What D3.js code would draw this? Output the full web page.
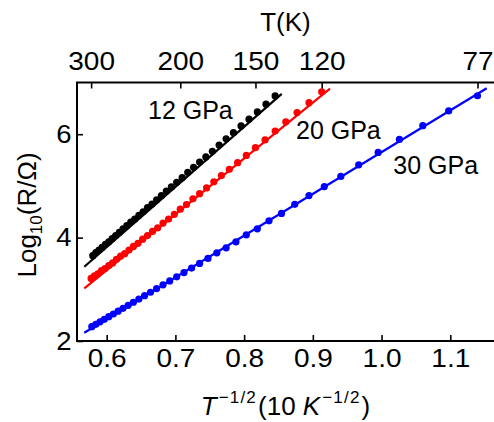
<!DOCTYPE html>
<html><head><meta charset="utf-8">
<script src="https://cdn.jsdelivr.net/npm/d3@7"></script>
<style>
html,body{margin:0;padding:0;background:#fff;}
svg{display:block;}
text{font-family:"Liberation Sans",Arial,Helvetica,sans-serif;fill:#000;}
</style></head>
<body><svg id="c" width="494" height="422"></svg>
<script>
// ---- data ----
const topTicksT = [300, 200, 150, 120, 77];
const topTickLabels = ["300", "200", "150", "120", "77"];
const bottomTicks = [0.6, 0.7, 0.8, 0.9, 1.0, 1.1];
const leftTicks = [2, 4, 6];

// 12 GPa (black): temperature (K) and log10(R/Ω)
const blackT = [140,144.5,149,153.5,158,162.5,167,171.5,176,180.5,185,189.5,194,198.5,203,207.5,212,216.5,221,225.5,230,234.5,239,243.5,248,252.5,257,261.5,266,270.5,275,279.5,284,288.5,293,297.5];
const blackY = [6.74,6.58,6.43,6.29,6.16,6.03,5.91,5.79,5.67,5.56,5.46,5.36,5.26,5.16,5.07,4.98,4.90,4.81,4.73,4.65,4.58,4.50,4.43,4.36,4.30,4.23,4.17,4.10,4.04,3.98,3.92,3.87,3.81,3.76,3.71,3.65];
const blackFitX = [0.5674, 0.8547];
const blackFitY = [3.436, 6.779];

// 20 GPa (red)
const redT = [120,125,130,135,140,145,150,155,160,165,170,175,180,185,190,195,200,205,210,215,220,225,230,235,240,245,250,255,260,265,270,275,280,285,290,295,300];
const redY = [6.82,6.61,6.42,6.24,6.06,5.89,5.74,5.59,5.45,5.32,5.20,5.08,4.96,4.85,4.75,4.64,4.55,4.45,4.36,4.28,4.19,4.12,4.04,3.97,3.89,3.83,3.76,3.69,3.64,3.58,3.51,3.46,3.40,3.36,3.30,3.26,3.21];
const redFitX = [0.5674, 0.925];
const redFitY = [3.018, 6.883];

// 30 GPa (blue)
const blueT = [77,83,89,95,101,107,113,119,125,131,137,143,149,155,161,167,173,179,185,191,197,203,209,215,221,227,233,239,245,251,257,263,269,275,281,287,293,299];
const blueY = [6.744,6.450,6.164,5.898,5.648,5.407,5.183,4.986,4.812,4.643,4.468,4.325,4.170,4.054,3.919,3.803,3.706,3.598,3.501,3.410,3.324,3.241,3.162,3.086,3.014,2.943,2.876,2.811,2.750,2.690,2.632,2.576,2.522,2.470,2.420,2.371,2.323,2.277];
const blueFitX = [0.5674, 1.153];
const blueFitY = [2.16, 6.889];

const seriesNames = ["12 GPa", "20 GPa", "30 GPa"];
const seriesColors = ["#000000", "#ff0000", "#0000ff"];

// ---- chart ----
const svg = d3.select("#c");
const L = 77, R = 497, T = 82.5, B = 341;
const x = d3.scaleLinear().domain([0.5568, 1.168]).range([L, R]);
const y = d3.scaleLinear().domain([2, 7]).range([B, T]);
const invSqrt = t => 10 / Math.sqrt(t);

const series = [
  {T: blackT, Y: blackY, fx: blackFitX, fy: blackFitY},
  {T: redT, Y: redY, fx: redFitX, fy: redFitY},
  {T: blueT, Y: blueY, fx: blueFitX, fy: blueFitY}
];

const plot = svg.append("g");
series.forEach((s, i) => {
  const line = d3.line().x(d => x(d[0])).y(d => y(d[1]));
  plot.append("path")
    .attr("d", line(d3.zip(s.fx, s.fy)))
    .attr("fill", "none").attr("stroke", seriesColors[i]).attr("stroke-width", 2.2);
  plot.selectAll(null).data(d3.zip(s.T, s.Y)).enter().append("circle")
    .attr("cx", d => x(invSqrt(d[0]))).attr("cy", d => y(d[1]))
    .attr("r", 3.6).attr("fill", seriesColors[i]);
});

// series labels
const labelPos = [[0.6601, 6.29], [0.8755, 5.907], [1.0171, 5.23]];
seriesNames.forEach((n, i) => {
  svg.append("text").attr("x", x(labelPos[i][0])).attr("y", y(labelPos[i][1]))
    .attr("font-size", 25).text(n);
});

// axes
const fs = 25;
const gB = svg.append("g").attr("transform", `translate(0,${B})`)
  .call(d3.axisBottom(x).tickValues(bottomTicks).tickFormat(d3.format(".1f"))
    .tickSizeInner(-6).tickSizeOuter(0).tickPadding(8.5));
const gT = svg.append("g").attr("transform", `translate(0,${T})`)
  .call(d3.axisTop(x).tickValues(topTicksT.map(invSqrt)).tickFormat((d, i) => topTickLabels[i])
    .tickSizeInner(-6).tickSizeOuter(0).tickPadding(12.5));
const gL = svg.append("g").attr("transform", `translate(${L},0)`)
  .call(d3.axisLeft(y).tickValues(leftTicks).tickFormat(d3.format("d"))
    .tickSizeInner(-6).tickSizeOuter(0).tickPadding(5));
[gB, gT, gL].forEach(g => {
  g.select(".domain").remove();
  g.selectAll(".tick line").attr("stroke", "#000").attr("stroke-width", 1.6);
  g.selectAll(".tick text").attr("font-size", fs)
    .attr("font-family", '"Liberation Sans",Arial,Helvetica,sans-serif').attr("fill", "#000");
});
gB.selectAll(".tick text").attr("transform", "scale(1.12,1)");
gT.selectAll(".tick text").attr("transform", "scale(1.12,1)");
gL.selectAll(".tick text").attr("transform", "scale(1.1,1)");

// frame
svg.append("rect").attr("x", L).attr("y", T).attr("width", R - L).attr("height", B - T)
  .attr("fill", "none").attr("stroke", "#000").attr("stroke-width", 2);

// titles
svg.append("text").attr("x", 285.5).attr("y", 31).attr("text-anchor", "middle")
  .attr("font-size", 26).text("T(K)");

const bt = svg.append("text").attr("x", 285.5).attr("y", 415).attr("text-anchor", "middle").attr("font-size", 26);
bt.append("tspan").attr("font-style", "italic").text("T");
bt.append("tspan").attr("font-size", 17).attr("letter-spacing", 1.2).attr("dx", 2).attr("dy", -12).text("−1/2");
bt.append("tspan").attr("dy", 12).attr("dx", 1).text("(10 ");
bt.append("tspan").attr("font-style", "italic").text("K");
bt.append("tspan").attr("font-size", 17).attr("letter-spacing", 1.2).attr("dx", 2).attr("dy", -12).text("−1/2");
bt.append("tspan").attr("dy", 12).attr("dx", 1).text(")");

const lt = svg.append("text").attr("transform", "translate(36,215) rotate(-90)")
  .attr("text-anchor", "middle").attr("font-size", 26);
lt.append("tspan").text("Log");
lt.append("tspan").attr("font-size", 17).attr("dy", 6).text("10");
lt.append("tspan").attr("dy", -6).text("(R/Ω)");
</script></body></html>
